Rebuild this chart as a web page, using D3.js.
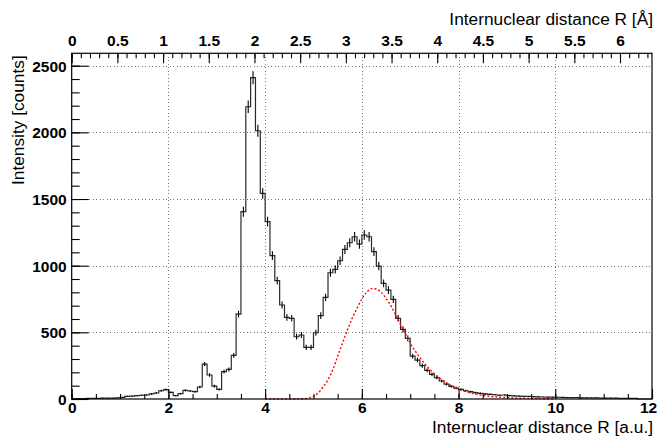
<!DOCTYPE html>
<html>
<head>
<meta charset="utf-8">
<script src="https://cdn.jsdelivr.net/npm/d3@7"></script>
<style>
  html, body { margin: 0; padding: 0; background: #fff; }
  svg { display: block; }
  text { font-family: "Liberation Sans", Arial, Helvetica, sans-serif; fill: #000; }
  .tick-label { font-weight: bold; font-size: 15.5px; }
  .title { font-size: 17.3px; }
</style>
</head>
<body>
<svg id="chart" width="659" height="436"></svg>
<script>
// Histogram: counts per 0.1 a.u. bin, starting at R = 0 a.u.
const binWidth = 0.1;
const counts = [
  2, 3, 3, 4, 4, 5, 6, 6, 7, 8,                 // 0.0 - 1.0
  12, 20, 22, 25, 28, 30, 38, 45, 62, 70,       // 1.0 - 2.0
  50, 25, 40, 65, 60, 55, 90, 262, 180, 97,     // 2.0 - 3.0
  72, 205, 222, 327, 637, 1405, 2192, 2410, 2012, 1542, // 3.0 - 4.0
  1330, 1075, 888, 705, 612, 605, 467, 480, 387, 387,   // 4.0 - 5.0
  497, 625, 762, 947, 972, 1037, 1122, 1172, 1217, 1162, // 5.0 - 6.0
  1230, 1217, 1105, 997, 867, 817, 747, 605, 522, 455,   // 6.0 - 7.0
  322, 292, 250, 215, 185, 160, 135, 112, 95, 82,       // 7.0 - 8.0
  72, 62, 55, 48, 42, 38, 35, 32, 28, 30,       // 8.0 - 9.0
  26, 24, 22, 20, 19, 18, 16, 15, 14, 14,       // 9.0 - 10.0
  13, 12, 11, 10, 10, 9, 9, 8, 8, 7,            // 10.0 - 11.0
  7, 6, 6, 5, 5, 5, 4, 0, 0, 0                  // 11.0 - 12.0
];

// Fitted component (red dashed curve), sampled points (R in a.u., counts)
const fitR = [4.0, 4.5, 4.8, 5.0, 5.2, 5.4, 5.5, 5.6, 5.7, 5.8, 5.9, 6.0, 6.1, 6.2, 6.3, 6.4, 6.5, 6.6, 6.7, 6.8, 6.9, 7.0, 7.2, 7.4, 7.6, 7.8, 8.0, 8.3, 8.6, 9.0, 9.5, 10.0];
const fitCounts = [0, 0, 2, 20, 90, 220, 320, 420, 515, 605, 680, 750, 800, 828, 825, 800, 755, 700, 630, 560, 490, 420, 310, 225, 160, 110, 75, 40, 22, 10, 4, 1];

// Axis tick values
const xMajorTicks = [0, 2, 4, 6, 8, 10, 12];
const yMajorTicks = [0, 500, 1000, 1500, 2000, 2500];
const angstromTicks = [0, 0.5, 1, 1.5, 2, 2.5, 3, 3.5, 4, 4.5, 5, 5.5, 6];
const bohrToAngstrom = 0.529177;

const xTitle = "Internuclear distance R [a.u.]";
const topTitle = "Internuclear distance R [Å]";
const yTitle = "Intensity [counts]";

// Frame geometry
const frame = { left: 71.7, right: 652, top: 53.3, bottom: 399 };
const svg = d3.select("#chart");

const x = d3.scaleLinear().domain([0, 12]).range([frame.left, frame.right]);
const y = d3.scaleLinear().domain([0, 2593]).range([frame.bottom, frame.top]);
const xA = d3.scaleLinear().domain([0, 12 * bohrToAngstrom]).range([frame.left, frame.right]);

// Grid
const grid = svg.append("g").attr("stroke", "#777").attr("stroke-width", 1)
  .attr("stroke-dasharray", "1,2.5").attr("shape-rendering", "crispEdges");
grid.selectAll("line.v").data(xMajorTicks.filter(t => t > 0 && t < 12)).join("line")
  .attr("x1", d => Math.round(x(d)) + 0.5).attr("x2", d => Math.round(x(d)) + 0.5)
  .attr("y1", frame.top).attr("y2", frame.bottom);
grid.selectAll("line.h").data(yMajorTicks.filter(t => t > 0)).join("line")
  .attr("y1", d => Math.round(y(d)) + 0.5).attr("y2", d => Math.round(y(d)) + 0.5)
  .attr("x1", frame.left).attr("x2", frame.right);

// Histogram step line
const bins = counts.map((c, i) => ({ lo: i * binWidth, hi: (i + 1) * binWidth, c }));
const stepPts = [];
bins.forEach(b => { stepPts.push([b.lo, b.c]); stepPts.push([b.hi, b.c]); });
const stepLine = d3.line().x(d => x(d[0])).y(d => y(d[1]));
svg.append("path").datum(stepPts)
  .attr("d", stepLine).attr("fill", "none")
  .attr("stroke", "#2a2a2a").attr("stroke-width", 1.2);

// Poisson error bars at bin centres
svg.append("g").attr("stroke", "#000").attr("stroke-width", 1.1)
  .selectAll("line").data(bins.filter(b => b.c > 0)).join("line")
  .attr("x1", b => x((b.lo + b.hi) / 2)).attr("x2", b => x((b.lo + b.hi) / 2))
  .attr("y1", b => y(b.c + Math.sqrt(b.c))).attr("y2", b => y(Math.max(0, b.c - Math.sqrt(b.c))));

// Fitted curve
const fitLine = d3.line().x((d, i) => x(fitR[i])).y(d => y(d)).curve(d3.curveMonotoneX);
svg.append("path").datum(fitCounts)
  .attr("d", fitLine).attr("fill", "none")
  .attr("stroke", "#ff0000").attr("stroke-width", 1.4).attr("stroke-dasharray", "2,2");

// Frame
svg.append("rect")
  .attr("x", frame.left).attr("y", frame.top)
  .attr("width", frame.right - frame.left).attr("height", frame.bottom - frame.top)
  .attr("fill", "none").attr("stroke", "#000").attr("stroke-width", 1.2);

function styleAxis(g) {
  g.select(".domain").remove();
  g.selectAll(".tick line").attr("stroke", "#000").attr("stroke-width", 1.1);
  g.selectAll(".tick text").attr("class", "tick-label").attr("fill", "#000");
}

// Bottom axis (a.u.), ticks point into the frame
const xMinor = d3.range(0, 12.01, 0.5);
svg.append("g").attr("transform", `translate(0,${frame.bottom})`)
  .call(d3.axisBottom(x).tickValues(xMinor).tickSize(-5).tickFormat(""))
  .call(styleAxis);
svg.append("g").attr("transform", `translate(0,${frame.bottom})`)
  .call(d3.axisBottom(x).tickValues(xMajorTicks).tickSize(-10).tickFormat(d3.format("d")))
  .call(styleAxis)
  .call(g => g.selectAll(".tick text").attr("y", 14).attr("dy", 0)
    // keep the last label inside the canvas
    .attr("x", d => d === 12 ? -4 : 0));

// Top axis (Å)
const aMinor = d3.range(0, 6.36, 0.1);
svg.append("g").attr("transform", `translate(0,${frame.top})`)
  .call(d3.axisTop(xA).tickValues(aMinor).tickSize(-5).tickFormat(""))
  .call(styleAxis);
svg.append("g").attr("transform", `translate(0,${frame.top})`)
  .call(d3.axisTop(xA).tickValues(angstromTicks).tickSize(-10).tickFormat(d => d3.format("")(d)))
  .call(styleAxis)
  .call(g => g.selectAll(".tick text").attr("y", -7).attr("dy", 0));

// Left axis
const yMinor = d3.range(0, 2501, 100);
svg.append("g").attr("transform", `translate(${frame.left},0)`)
  .call(d3.axisLeft(y).tickValues(yMinor).tickSize(-8).tickFormat(""))
  .call(styleAxis);
svg.append("g").attr("transform", `translate(${frame.left},0)`)
  .call(d3.axisLeft(y).tickValues(yMajorTicks).tickSize(-17).tickFormat(d3.format("d")))
  .call(styleAxis)
  .call(g => g.selectAll(".tick text").attr("x", -5).attr("dy", "0.36em"));

// Axis titles
svg.append("text").attr("class", "title")
  .attr("x", frame.right + 1).attr("y", 433).attr("text-anchor", "end").text(xTitle);
svg.append("text").attr("class", "title")
  .attr("x", frame.right + 1).attr("y", 25).attr("text-anchor", "end").text(topTitle);
svg.append("text").attr("class", "title")
  .attr("transform", `translate(24,${frame.top + 2}) rotate(-90)`)
  .attr("text-anchor", "end").text(yTitle);
</script>
</body>
</html>
